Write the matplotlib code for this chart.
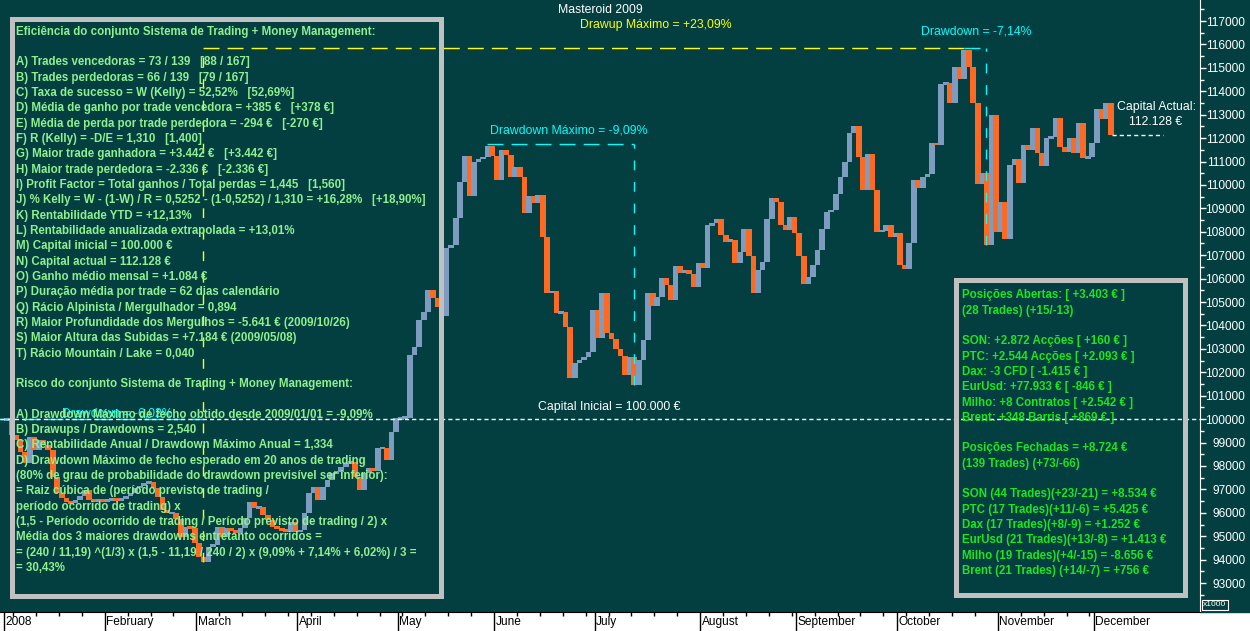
import numpy as np
import pandas as pd
import matplotlib
matplotlib.use("Agg")
import matplotlib.pyplot as plt
from matplotlib.patches import Rectangle

plt.rcParams['font.family'] = ['Liberation Sans', 'DejaVu Sans']

# Capital no fecho de cada dia útil desde 2009/01/01
capital = [
    100000, 99320, 99110, 98600, 98130, 99240, 98680, 99100, 98900, 98700,
    97530, 96830, 96650, 96480, 96400, 96550, 96700, 96970, 96550, 96480,
    96550, 96500, 96550, 96600, 96550, 96600, 96700, 96830, 97050, 97150,
    97260, 97330, 97050, 96690, 96120, 95980, 96000, 95750, 94980, 95410,
    95340, 94700, 94130, 93910, 94560, 94630, 95410, 94980, 95340, 95270,
    95120, 95340, 95760, 96480, 96190, 96260, 95910, 95690, 95410, 95340,
    95270, 95200, 95620, 95200, 95250, 95980, 96830, 97120, 96550, 97120,
    97400, 97690, 97750, 97970, 98110, 98180, 97540, 96970, 97690, 97900,
    97800, 98750, 98780, 98260, 99470, 100030, 100050, 100060, 102740, 103100,
    104230, 104590, 105510, 105160, 104800, 104400, 107300, 107440, 108570, 110140,
    111240, 109540, 110990, 111090, 111210, 111660, 111240, 110210, 111490, 111280,
    110350, 110750, 110350, 108790, 109530, 109240, 109570, 107760, 105400, 105460,
    104550, 104590, 103920, 101740, 102380, 102530, 102670, 102880, 104660, 103450,
    105370, 103660, 103410, 102980, 102700, 101890, 102670, 101460, 102530, 103380,
    105400, 104830, 105230, 106010, 105730, 105090, 106540, 106230, 106370, 106200,
    105660, 106680, 106440, 108290, 108360, 108530, 107860, 107580, 107650, 106680,
    107150, 108110, 106970, 105400, 106370, 106720, 108530, 109430, 109290, 108290,
    108080, 108620, 107930, 106970, 105750, 106080, 106580, 107230, 108100, 108850,
    108930, 109610, 110350, 110990, 112200, 112520, 111210, 109780, 111320, 109780,
    108010, 108050, 108290, 107760, 107960, 106580, 106400, 107510, 110210, 109860,
    110350, 110470, 111800, 111700, 114310, 114370, 113490, 115050, 114510, 115760,
    115050, 113510, 110040, 110520, 107440, 112990, 108010, 109290, 107680, 110850,
    111090, 110100, 111700, 111490, 112420, 111350, 110810, 111990, 112030, 112840,
    111640, 111420, 111990, 111350, 112630, 111140, 111180, 111780, 113230, 112800,
    113510, 112128,
]
capital_inicial = 100000

nomes_meses = ["2008", "February", "March", "April", "May", "June", "July",
               "August", "September", "October", "November", "December"]

texto_esquerda = [
    "Eficiência do conjunto Sistema de Trading + Money Management:",
    "",
    "A) Trades vencedoras = 73 / 139   [88 / 167]",
    "B) Trades perdedoras = 66 / 139   [79 / 167]",
    "C) Taxa de sucesso = W (Kelly) = 52,52%   [52,69%]",
    "D) Média de ganho por trade vencedora = +385 €   [+378 €]",
    "E) Média de perda por trade perdedora = -294 €   [-270 €]",
    "F) R (Kelly) = -D/E = 1,310   [1,400]",
    "G) Maior trade ganhadora = +3.442 €   [+3.442 €]",
    "H) Maior trade perdedora = -2.336 €   [-2.336 €]",
    "I) Profit Factor = Total ganhos / Total perdas = 1,445   [1,560]",
    "J) % Kelly = W - (1-W) / R = 0,5252 - (1-0,5252) / 1,310 = +16,28%   [+18,90%]",
    "K) Rentabilidade YTD = +12,13%",
    "L) Rentabilidade anualizada extrapolada = +13,01%",
    "M) Capital inicial = 100.000 €",
    "N) Capital actual = 112.128 €",
    "O) Ganho médio mensal = +1.084 €",
    "P) Duração média por trade = 62 dias calendário",
    "Q) Rácio Alpinista / Mergulhador = 0,894",
    "R) Maior Profundidade dos Mergulhos = -5.641 € (2009/10/26)",
    "S) Maior Altura das Subidas = +7.184 € (2009/05/08)",
    "T) Rácio Mountain / Lake = 0,040",
    "",
    "Risco do conjunto Sistema de Trading + Money Management:",
    "",
    "A) Drawdown Máximo de fecho obtido desde 2009/01/01 = -9,09%",
    "B) Drawups / Drawdowns = 2,540",
    "C) Rentabilidade Anual / Drawdown Máximo Anual = 1,334",
    "D) Drawdown Máximo de fecho esperado em 20 anos de trading",
    "(80% de grau de probabilidade do drawdown previsível ser inferior):",
    "= Raiz cúbica de (período previsto de trading /",
    "período ocorrido de trading) x",
    "(1,5 - Período ocorrido de trading / Período previsto de trading / 2) x",
    "Média dos 3 maiores drawdowns entretanto ocorridos =",
    "= (240 / 11,19) ^(1/3) x (1,5 - 11,19 / 240 / 2) x (9,09% + 7,14% + 6,02%) / 3 =",
    "= 30,43%",
]

texto_direita = [
    "Posições Abertas: [ +3.403 € ]",
    "(28 Trades) (+15/-13)",
    "",
    "SON: +2.872 Acções [ +160 € ]",
    "PTC: +2.544 Acções [ +2.093 € ]",
    "Dax: -3 CFD [ -1.415 € ]",
    "EurUsd: +77.933 € [ -846 € ]",
    "Milho: +8 Contratos [ +2.542 € ]",
    "Brent: +348 Barris [ +869 € ]",
    "",
    "Posições Fechadas = +8.724 €",
    "(139 Trades) (+73/-66)",
    "",
    "SON (44 Trades)(+23/-21) = +8.534 €",
    "PTC (17 Trades)(+11/-6) = +5.425 €",
    "Dax (17 Trades)(+8/-9) = +1.252 €",
    "EurUsd (21 Trades)(+13/-8) = +1.413 €",
    "Milho (19 Trades)(+4/-15) = -8.656 €",
    "Brent (21 Trades) (+14/-7) = +756 €",
]

# cores
fundo = "#033f40"
azul = "#7d9cc0"
laranja = "#ff6a22"
amarelo = "#ffff00"
ciano = "#00ffff"

W, H = 1250, 631
fig = plt.figure(figsize=(W / 100, H / 100), dpi=100, facecolor="white")
ax = fig.add_axes([0, 19 / H, 1200 / W, 612 / H])
ax.set_facecolor(fundo)
fig.add_artist(Rectangle((1200 / W, 19 / H), 50 / W, 612 / H, transform=fig.transFigure,
                         color=fundo, zorder=-1))

# barras diárias (abertura = fecho anterior)
fecho = np.array(capital, dtype=float)
abertura = np.r_[capital_inicial, fecho[:-1]]
x = np.arange(len(fecho))
altura = np.maximum(np.abs(fecho - abertura), 120)
base = (fecho + abertura) / 2 - altura / 2
cores = [azul if c >= a else laranja for a, c in zip(abertura, fecho)]
ax.bar(x, altura, bottom=base, width=1.25, align="edge", color=cores, zorder=2)

ax.set_xlim(-4 / 4.58, 1196 / 4.58)
ax.set_ylim(117000 - 591 / 23.42 * 1000, 117000 + 21 / 23.42 * 1000)

# drawup / drawdowns
i_vale = int(np.argmin(fecho))
i_topo = int(np.argmax(fecho))
i_vale2 = i_topo + int(np.argmin(fecho[i_topo:]))
maximo_corrente = np.maximum.accumulate(fecho)
dd = fecho / maximo_corrente - 1
i_dd = int(np.argmin(dd))
i_dd_topo = int(np.argmax(fecho[:i_dd + 1]))
i_pico0 = int(np.argmax(fecho[:i_vale + 1]))

hdash = (11.5, 5.8)
vdash = (7, 8.5)
c = 0.5
ytopo = fecho[i_topo] + 100
ax.plot([i_vale + c, i_topo + c], [ytopo] * 2, color=amarelo, lw=1, dashes=hdash, zorder=4)
ax.plot([i_vale + c] * 2, [fecho[i_vale], ytopo], color=amarelo, lw=1, dashes=vdash, zorder=4)
ax.plot([i_dd_topo + c, i_dd + c], [fecho[i_dd_topo] + 80] * 2, color=ciano, lw=1, dashes=hdash, zorder=4)
ax.plot([i_dd + c] * 2, [fecho[i_dd], fecho[i_dd_topo] + 80], color=ciano, lw=1, dashes=vdash, zorder=4)
ax.plot([i_topo + c, i_vale2 + c], [ytopo] * 2, color=ciano, lw=1, dashes=hdash, zorder=4)
ax.plot([i_vale2 + c] * 2, [fecho[i_vale2], ytopo], color=ciano, lw=1, dashes=vdash, zorder=4)
ax.plot([-1, i_vale + c], [fecho[i_pico0]] * 2, color=ciano, lw=1, dashes=hdash, zorder=4)

fs = 8.8
ax.annotate("Drawup Máximo = +23,09%", xy=((i_vale + i_topo) / 2 + c, ytopo), xytext=(52, 16.5),
            textcoords="offset points", ha="center", va="center", color=amarelo, fontsize=fs)
ax.annotate("Drawdown Máximo = -9,09%", xy=((i_dd_topo + i_dd) / 2 + c, fecho[i_dd_topo] + 80),
            xytext=(6, 10), textcoords="offset points", ha="center", va="center",
            color=ciano, fontsize=fs)
ax.annotate("Drawdown = -7,14%", xy=((i_topo + i_vale2) / 2 + c, ytopo),
            xytext=(1, 11.5), textcoords="offset points", ha="center", va="center",
            color=ciano, fontsize=fs)
ax.annotate("Drawdown = -6,02%", xy=((i_pico0 + i_vale) / 2 + c, fecho[i_pico0]),
            xytext=(9, 4), textcoords="offset points", ha="center", va="center",
            color=ciano, fontsize=fs)

# capital inicial / actual
ax.axhline(capital_inicial, color="white", lw=1, dashes=(3, 2.2), zorder=6)
ax.annotate("Capital Inicial = 100.000 €", xy=(0.5075, capital_inicial),
            xycoords=("axes fraction", "data"), xytext=(0, 8.6), textcoords="offset points",
            ha="center", va="center", color="white", fontsize=fs)
n = len(fecho)
ax.plot([n, n + 11], [fecho[-1]] * 2, color="white", lw=1, dashes=(3, 2.2), zorder=6)
ax.annotate("Capital Actual:", xy=(n, fecho[-1]), xytext=(3, 20), textcoords="offset points",
            ha="left", va="center", color="white", fontsize=fs)
ax.annotate(f"{fecho[-1]:,.0f} €".replace(",", "."), xy=(n, fecho[-1]), xytext=(31, 9.4),
            textcoords="offset points", ha="center", va="center", color="white", fontsize=fs)

fig.text(600 / W, 1 - 10 / H, "Masteroid 2009", color="white", fontsize=fs,
         ha="center", va="center")

# eixo vertical à direita
ax.yaxis.tick_right()
ax.set_yticks(np.arange(93000, 117001, 1000))
ax.set_yticklabels([str(v) for v in range(93000, 117001, 1000)])
ax.set_yticks(np.arange(92500, 117600, 1000), minor=True)
ax.tick_params(axis="y", which="major", colors="white", length=4, width=1, pad=28.5,
               labelsize=8.6)
ax.tick_params(axis="y", which="minor", colors="white", length=3, width=1)
for lab in ax.get_yticklabels():
    lab.set_horizontalalignment("right")

# eixo temporal
dias = pd.bdate_range("2009-01-01", periods=n)
meses = pd.Series(np.arange(n), index=dias)
inicio_mes = meses.groupby([dias.year, dias.month]).first().values
segundas = np.where(dias.dayofweek == 0)[0]
ax.set_xticks(inicio_mes)
ax.set_xticklabels([""] * len(inicio_mes))
ax.set_xticks(segundas, minor=True)
ax.tick_params(axis="x", which="major", colors="black", length=14, width=1, direction="out")
ax.tick_params(axis="x", which="minor", colors="black", length=3, width=1, direction="out")
for i, nome in zip(inicio_mes, nomes_meses):
    ax.text(i + 0.3, -10 / 612, nome, transform=ax.get_xaxis_transform(), ha="left",
            va="center", fontsize=8.6, color="black", clip_on=False)

for lado in ["left", "top"]:
    ax.spines[lado].set_visible(False)
ax.spines["right"].set_color("white")
ax.spines["bottom"].set_color("black")

fig.text(1203 / W, 1 - 605 / H, "x1000", color="white", fontsize=6, ha="left", va="center",
         bbox=dict(boxstyle="square,pad=0.15", fc="none", ec="white", lw=0.8))

# caixas de texto
cinza = "#c0c0c0"
fig.add_artist(Rectangle((11.5 / W, 1 - 595.5 / H), 430 / W, 577 / H, transform=fig.transFigure,
                         fill=False, ec=cinza, lw=3.6, zorder=5))
fig.add_artist(Rectangle((955.5 / W, 1 - 594.5 / H), 229 / W, 315 / H, transform=fig.transFigure,
                         fill=False, ec=cinza, lw=3.6, zorder=5))
for k, linha in enumerate(texto_esquerda):
    fig.text(16 / W, 1 - (31.8 + k * 15.32) / H, linha, color="#8ef08e", fontsize=8.3,
             fontweight="bold", ha="left", va="center", zorder=6)
for k, linha in enumerate(texto_direita):
    fig.text(962 / W, 1 - (295.3 + k * 15.32) / H, linha, color="#1ee61e", fontsize=8.3,
             fontweight="bold", ha="left", va="center", zorder=6)

fig.savefig("out.png", dpi=100, facecolor="white")
